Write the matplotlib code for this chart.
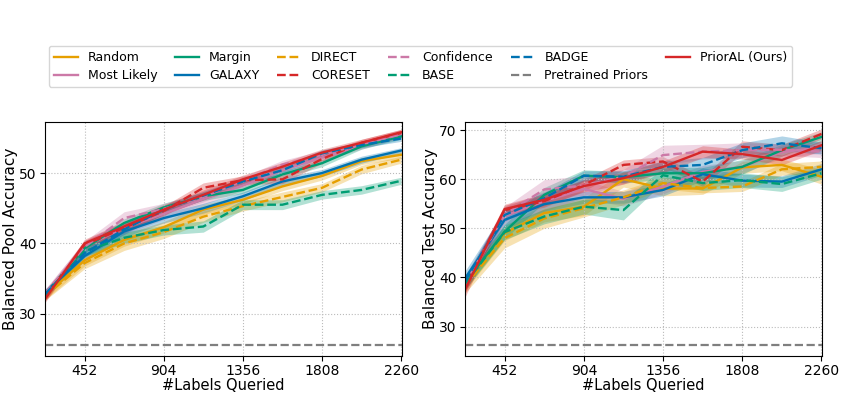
import matplotlib
matplotlib.use("Agg")
import matplotlib.pyplot as plt
import numpy as np

labels_queried = [226, 452, 678, 904, 1130, 1356, 1582, 1808, 2034, 2260]
xticks = [452, 904, 1356, 1808, 2260]

# ---- Balanced Pool Accuracy (left) ----
pool_random      = [32.6, 37.6, 40.5, 42.3, 44.8, 46.2, 48.1, 49.6, 51.7, 52.6]
pool_mostlikely  = [32.8, 39.6, 42.2, 44.2, 46.3, 48.2, 50.4, 52.2, 53.9, 55.4]
pool_margin      = [32.8, 39.3, 42.9, 45.1, 46.7, 47.6, 49.8, 51.4, 53.8, 55.2]
pool_galaxy      = [33.0, 38.2, 41.7, 43.6, 45.0, 46.7, 48.8, 50.0, 51.9, 53.2]
pool_direct      = [32.5, 37.2, 40.0, 41.6, 43.8, 45.3, 46.6, 47.9, 50.5, 51.9]
pool_coreset     = [32.3, 39.8, 42.2, 44.6, 47.9, 49.0, 49.1, 52.0, 54.3, 55.7]
pool_confidence  = [32.9, 39.5, 43.6, 44.9, 46.6, 48.9, 51.2, 52.6, 54.1, 55.5]
pool_base        = [32.7, 38.9, 40.8, 41.9, 42.4, 45.5, 45.5, 46.9, 47.6, 48.9]
pool_badge       = [32.8, 38.6, 42.0, 44.8, 46.8, 48.8, 50.4, 52.8, 54.0, 54.9]
pool_prioral     = [32.1, 40.0, 42.4, 44.8, 46.9, 49.1, 50.9, 52.9, 54.3, 55.8]
pool_pretrained  = 25.6

pool_random_sd     = [0.6, 0.8, 0.9, 0.8, 0.7, 0.6, 0.6, 0.6, 0.5, 0.5]
pool_mostlikely_sd = [0.6, 0.8, 0.9, 0.8, 0.8, 0.7, 0.6, 0.5, 0.5, 0.4]
pool_margin_sd     = [0.5, 0.6, 0.6, 0.6, 0.6, 0.5, 0.5, 0.5, 0.4, 0.4]
pool_galaxy_sd     = [0.5, 0.7, 0.8, 0.7, 0.7, 0.6, 0.6, 0.5, 0.5, 0.4]
pool_direct_sd     = [0.6, 0.8, 1.0, 0.9, 0.8, 0.7, 0.7, 0.6, 0.6, 0.5]
pool_coreset_sd    = [0.5, 0.6, 0.7, 0.7, 0.7, 0.6, 0.6, 0.6, 0.5, 0.5]
pool_confidence_sd = [0.6, 0.8, 0.9, 0.8, 0.7, 0.6, 0.6, 0.6, 0.5, 0.5]
pool_base_sd       = [0.5, 0.7, 0.8, 0.7, 0.8, 0.7, 0.7, 0.6, 0.6, 0.5]
pool_badge_sd      = [0.5, 0.6, 0.7, 0.6, 0.6, 0.5, 0.5, 0.5, 0.4, 0.4]
pool_prioral_sd    = [0.5, 0.6, 0.7, 0.7, 0.7, 0.6, 0.6, 0.5, 0.5, 0.4]

# ---- Balanced Test Accuracy (right) ----
test_random      = [38.8, 49.0, 53.1, 54.4, 60.0, 58.1, 58.1, 62.4, 62.9, 60.5]
test_mostlikely  = [38.5, 52.5, 55.5, 58.0, 56.0, 58.5, 61.5, 62.5, 65.5, 66.5]
test_margin      = [38.9, 49.3, 56.8, 60.7, 60.4, 61.2, 61.2, 62.5, 65.9, 68.6]
test_galaxy      = [39.8, 51.7, 54.9, 56.3, 56.3, 57.8, 61.0, 59.7, 59.5, 62.0]
test_direct      = [38.3, 48.0, 52.0, 54.1, 56.3, 59.2, 58.2, 58.5, 62.0, 62.5]
test_coreset     = [38.0, 53.7, 55.5, 58.8, 62.9, 63.6, 59.5, 66.6, 65.9, 69.2]
test_confidence  = [38.6, 52.8, 57.9, 58.7, 60.5, 64.9, 65.6, 65.9, 66.0, 65.6]
test_base        = [38.7, 49.2, 52.4, 54.4, 53.7, 60.8, 59.2, 59.8, 59.0, 61.2]
test_badge       = [39.2, 52.7, 56.1, 60.7, 60.5, 62.5, 62.9, 65.9, 67.3, 66.3]
test_prioral     = [37.5, 53.9, 55.8, 58.6, 60.2, 62.5, 65.6, 65.1, 63.9, 66.9]
test_pretrained  = 26.3

test_random_sd     = [1.5, 1.5, 1.8, 1.8, 1.6, 1.5, 1.2, 1.2, 1.2, 1.5]
test_mostlikely_sd = [1.5, 1.8, 2.0, 1.8, 1.5, 1.5, 1.3, 1.3, 1.2, 1.2]
test_margin_sd     = [1.2, 1.5, 1.5, 1.2, 1.2, 1.2, 1.2, 1.5, 1.2, 1.0]
test_galaxy_sd     = [1.5, 2.0, 1.5, 1.2, 1.2, 1.2, 1.3, 1.3, 1.2, 1.2]
test_direct_sd     = [1.5, 2.0, 2.0, 1.8, 1.5, 1.2, 1.0, 1.0, 1.2, 1.2]
test_coreset_sd    = [1.2, 1.0, 1.2, 1.2, 1.0, 1.0, 1.0, 1.2, 1.2, 1.0]
test_confidence_sd = [1.5, 1.5, 2.0, 2.0, 1.5, 2.0, 1.5, 1.5, 1.2, 1.2]
test_base_sd       = [1.2, 1.5, 1.5, 1.5, 2.0, 1.5, 1.5, 1.5, 1.5, 1.2]
test_badge_sd      = [1.2, 1.2, 1.2, 1.0, 1.2, 1.2, 1.5, 1.5, 1.5, 1.2]
test_prioral_sd    = [1.5, 1.0, 1.2, 1.2, 1.2, 1.2, 1.2, 1.0, 1.0, 1.0]

names = ["Random", "Most Likely", "Margin", "GALAXY", "DIRECT", "CORESET",
         "Confidence", "BASE", "BADGE", "PriorAL (Ours)"]
colors = {"Random": "#E69F00", "Most Likely": "#CC79A7", "Margin": "#009E73",
          "GALAXY": "#0072B2", "DIRECT": "#E69F00", "CORESET": "#D62728",
          "Confidence": "#CC79A7", "BASE": "#009E73", "BADGE": "#0072B2",
          "PriorAL (Ours)": "#D62728"}
styles = {"Random": "-", "Most Likely": "-", "Margin": "-", "GALAXY": "-",
          "DIRECT": "--", "CORESET": "--", "Confidence": "--", "BASE": "--",
          "BADGE": "--", "PriorAL (Ours)": "-"}

pool = {"Random": (pool_random, pool_random_sd), "Most Likely": (pool_mostlikely, pool_mostlikely_sd),
        "Margin": (pool_margin, pool_margin_sd), "GALAXY": (pool_galaxy, pool_galaxy_sd),
        "DIRECT": (pool_direct, pool_direct_sd), "CORESET": (pool_coreset, pool_coreset_sd),
        "Confidence": (pool_confidence, pool_confidence_sd), "BASE": (pool_base, pool_base_sd),
        "BADGE": (pool_badge, pool_badge_sd), "PriorAL (Ours)": (pool_prioral, pool_prioral_sd)}
test = {"Random": (test_random, test_random_sd), "Most Likely": (test_mostlikely, test_mostlikely_sd),
        "Margin": (test_margin, test_margin_sd), "GALAXY": (test_galaxy, test_galaxy_sd),
        "DIRECT": (test_direct, test_direct_sd), "CORESET": (test_coreset, test_coreset_sd),
        "Confidence": (test_confidence, test_confidence_sd), "BASE": (test_base, test_base_sd),
        "BADGE": (test_badge, test_badge_sd), "PriorAL (Ours)": (test_prioral, test_prioral_sd)}

fig = plt.figure(figsize=(8.43, 3.97), dpi=100)
ax1 = fig.add_axes([0.0534, 0.1033, 0.4235, 0.5902])
ax2 = fig.add_axes([0.5516, 0.1033, 0.4239, 0.5902])

x = np.array(labels_queried)
handles = {}
for ax, data, pre, ylab, ylim, yt in [
        (ax1, pool, pool_pretrained, "Balanced Pool Accuracy", (24.0, 57.3), [30, 40, 50]),
        (ax2, test, test_pretrained, "Balanced Test Accuracy", (24.0, 71.7), [30, 40, 50, 60, 70])]:
    for n in names:
        m, s = data[n]
        m = np.array(m); s = np.array(s)
        ax.fill_between(x, m - s, m + s, color=colors[n], alpha=0.3, linewidth=0)
        h, = ax.plot(x, m, color=colors[n], linestyle=styles[n], linewidth=1.7)
        handles[n] = h
    hp = ax.axhline(pre, color="#7f7f7f", linestyle="--", linewidth=1.6)
    handles["Pretrained Priors"] = hp
    ax.set_xlim(226, 2265)
    ax.set_ylim(*ylim)
    ax.set_xticks(xticks)
    ax.set_yticks(yt)
    ax.tick_params(labelsize=10, pad=2.5)
    ax.grid(True, linestyle=":", color="#bbbbbb", linewidth=0.8)
    ax.set_xlabel("#Labels Queried", fontsize=10.5, labelpad=0)
    ax.set_ylabel(ylab, fontsize=11, labelpad=0.5)

order = ["Random", "Most Likely", "Margin", "GALAXY", "DIRECT", "CORESET",
         "Confidence", "BASE", "BADGE", "Pretrained Priors", "PriorAL (Ours)"]
fig.legend([handles[n] for n in order], order, loc="center", ncol=6,
           bbox_to_anchor=(0.499, 0.8325), fontsize=9, frameon=True,
           handlelength=1.9, columnspacing=1.45, borderpad=0.4, labelspacing=0.4)

fig.savefig("out.png", dpi=100)
